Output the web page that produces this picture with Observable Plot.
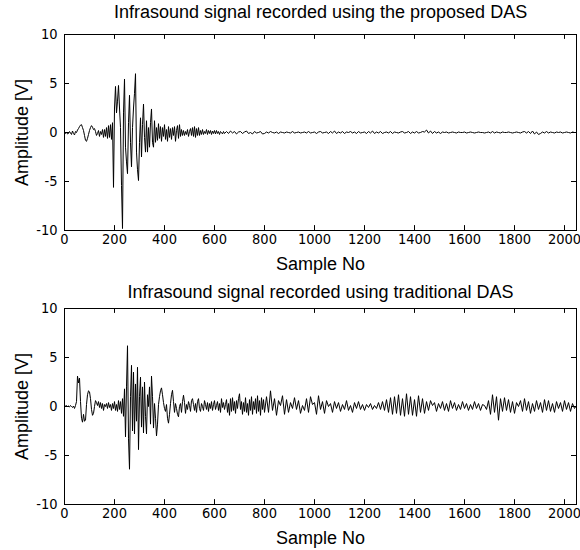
<!DOCTYPE html>
<html><head><meta charset="utf-8">
<script src="https://cdn.jsdelivr.net/npm/d3@7"></script>
<script src="https://cdn.jsdelivr.net/npm/@observablehq/plot@0.6"></script>
<style>
body{margin:0;background:#fff;}
#chart{width:580px;height:550px;}
#chart svg{display:block;}
</style></head><body><div id="chart"></div>
<script>
const xTicks = [0,200,400,600,800,1000,1200,1400,1600,1800,2000];
const yTicks = [-10,-5,0,5,10];
const titleTop = "Infrasound signal recorded using the proposed DAS";
const titleBottom = "Infrasound signal recorded using traditional DAS";
const xLabel = "Sample No";
const yLabel = "Amplitude [V]";

// Proposed DAS: samples 0..640 every 4, then 648..2048 every 8
const topAmpEarly = [
  0.0,-0.1,0.05,-0.15,-0.1,0.1,-0.05,-0.2,0.15,-0.1,-0.25,0.1,0.0,0.25,0.4,0.6,
  0.75,0.8,0.5,0.2,-0.3,-0.8,-0.9,-0.6,
  -0.2,0.2,0.5,0.7,0.55,0.3,0.4,0.1,
  -0.3,-0.1,0.2,-0.4,0.1,-0.2,0.3,-0.5,0.3,-0.4,
  0.5,-0.6,0.7,-0.5,0.8,-0.7,1.0,-5.6,2.5,4.7,
  2.0,3.2,4.8,2.5,0.5,-5.4,-9.8,2.0,5.45,-1.5,
  -3.0,-4.2,1.0,3.8,-1.0,-3.5,0.5,2.5,4.0,6.0,
  -2.0,-3.8,-4.9,-1.0,1.5,-2.5,0.8,2.9,-0.5,-2.0,
  1.2,-2.0,0.5,-1.5,1.0,2.4,-1.0,-1.5,1.2,-1.0,
  0.5,-0.8,0.9,-0.6,0.6,-0.9,0.5,-0.4,0.8,-0.7,
  0.3,-0.9,0.6,-0.5,0.4,-0.7,0.5,-0.3,0.6,-0.9,
  0.2,0.7,-0.6,0.8,-0.4,0.3,-0.3,0.2,-0.3,0.1,
  -0.2,0.3,-0.4,0.1,0.4,-0.3,0.5,-0.4,0.6,-0.5,
  0.4,-0.3,0.5,-0.3,0.2,-0.2,0.3,-0.2,0.1,-0.1,
  0.3,-0.2,0.2,-0.1,0.2,-0.2,0.15,-0.1,0.2,-0.15,
  0.2,-0.1,0.1,-0.2,0.1,0.0,-0.15,0.1,-0.1
];
const topAmpLate = [
  0.1,-0.1,0.15,-0.05,0.1,-0.15,0.05,0.1,-0.1,0.05,
  0.15,-0.1,0.0,-0.15,0.1,-0.05,0.0,0.1,-0.15,-0.1,
  0.05,-0.05,0.1,0.0,-0.05,0.05,-0.1,0.05,0.0,-0.05,
  0.05,0.0,-0.05,0.1,-0.05,0.0,0.05,-0.05,0.0,0.05,
  -0.05,0.1,-0.05,0.0,0.05,-0.1,0.05,0.1,-0.05,0.0,
  0.05,-0.1,0.1,-0.05,0.15,-0.1,0.05,-0.05,0.1,-0.1,
  0.05,0.0,0.1,-0.05,0.05,-0.1,0.1,-0.05,0.0,0.05,
  -0.1,0.1,-0.05,0.15,-0.1,0.05,-0.05,0.1,-0.1,0.0,
  0.05,-0.05,0.1,-0.1,0.05,0.0,-0.05,0.05,0.1,-0.05,
  0.0,0.1,-0.1,0.05,-0.05,0.1,-0.05,0.0,0.1,0.05,
  0.25,-0.05,0.15,-0.1,0.1,-0.05,0.05,-0.1,0.05,0.0,
  0.05,-0.05,0.0,0.05,0.0,-0.05,0.05,0.0,0.0,0.05,
  -0.05,0.0,0.05,0.0,-0.05,0.0,0.05,0.0,0.0,-0.05,
  0.0,0.05,-0.05,0.1,-0.05,0.05,0.0,-0.05,0.05,0.0,
  0.0,0.05,0.0,-0.05,0.0,0.05,0.0,-0.05,0.05,0.1,
  -0.05,0.1,-0.1,0.15,-0.15,0.05,-0.2,-0.1,0.05,-0.05,
  0.1,-0.05,0.05,0.0,-0.05,0.05,0.0,0.05,-0.05,0.0,
  0.05,0.0,-0.05,0.05,0.0,0.0
];

// Traditional DAS: samples 0..800 every 4, then 808..2048 every 8
const botAmpEarly = [
  0.0,0.05,0.1,0.0,0.05,-0.05,0.1,0.0,-0.1,0.05,-0.2,0.1,
  0.5,3.1,2.4,2.9,0.5,-1.2,-1.6,-0.8,-1.5,-1.4,0.2,1.2,1.6,
  1.5,0.8,-0.3,-0.9,-0.7,0.0,0.6,0.4,0.1,0.5,-0.1,0.4,-0.2,
  0.3,-0.4,0.2,0.0,0.3,-0.2,0.4,-0.1,0.2,-0.4,0.3,-0.2,0.5,
  -0.4,0.2,-0.5,0.6,-0.3,0.5,-0.7,0.8,-1.0,1.8,-3.1,2.0,
  6.2,-3.3,-6.4,1.0,4.2,-2.5,3.5,-2.8,2.3,-1.5,4.0,-4.4,1.0,
  3.0,-2.1,2.0,-2.7,2.5,-1.0,-2.8,1.2,0.0,2.0,-1.8,3.1,1.0,
  -2.2,0.3,-1.2,-3.0,-1.8,0.2,1.0,1.6,1.9,1.2,0.4,-0.2,-0.5,
  0.2,-1.2,-1.7,-0.8,0.3,1.2,1.65,0.5,-0.6,0.3,-0.2,-0.8,-1.05,
  0.0,0.3,-0.6,0.5,1.15,0.4,-0.7,0.2,-0.3,0.5,0.1,-0.5,0.6,
  0.8,0.2,-0.4,0.3,-0.6,0.5,0.8,-0.2,-0.5,0.3,0.0,-0.4,0.6,
  0.2,-0.3,0.4,-0.5,0.3,-0.2,0.5,-0.4,0.2,0.6,-0.3,0.1,0.5,
  -0.4,0.3,-0.6,0.8,-0.1,0.4,-0.3,0.2,0.7,-0.6,0.3,-0.9,0.8,
  -0.5,0.9,-0.4,0.5,-0.7,0.6,-0.2,0.8,1.3,-0.3,0.5,-0.8,0.4,
  -0.5,0.9,-0.6,0.3,-0.9,0.7,-0.4,1.0,-0.8,0.5,-0.3,
  0.8,-0.7,1.1,-0.5,0.6,-0.9,0.9,-0.3,0.7,-0.6
];
const botAmpLate = [
  1.0,-0.6,1.6,-0.4,0.8,-0.9,0.6,0.1,1.1,-0.8,
  0.7,-0.6,0.4,-0.2,0.9,-0.3,0.6,-0.7,0.1,-0.4,
  0.8,-0.6,1.0,0.2,0.4,-0.8,1.1,-0.3,0.5,-0.7,
  0.6,0.0,0.3,-0.6,0.5,-0.2,0.4,-0.5,0.2,-0.3,
  0.6,-0.4,0.1,-0.6,0.4,-0.2,0.5,-0.3,0.2,-0.4,
  0.2,-0.1,0.3,-0.3,0.1,-0.2,0.4,-0.3,0.5,-0.4,
  0.7,-0.6,0.9,-0.8,1.0,-0.7,1.2,-0.9,0.8,-1.0,
  1.3,-0.8,1.0,-0.9,0.7,-1.0,1.1,-0.6,0.8,-0.7,
  0.5,-0.4,0.6,0.1,0.4,-0.5,0.3,-0.2,0.5,-0.4,
  0.3,-0.5,0.6,-0.2,0.4,-0.4,0.2,-0.3,0.5,-0.2,
  0.3,-0.4,0.2,-0.3,0.5,-0.2,0.3,-0.4,0.2,0.1,
  -0.3,0.6,-0.8,1.2,-0.6,1.0,-1.4,0.8,-0.5,0.9,
  -0.4,0.7,-0.6,0.5,-0.7,0.4,0.0,0.6,-0.5,0.8,
  -0.4,0.5,-0.7,0.3,-0.5,0.6,-0.3,0.4,-0.6,0.7,
  -0.4,0.6,-0.5,0.3,-0.6,0.5,-0.2,0.4,-0.5,0.6,
  -0.3,0.4,-0.5,0.3,-0.2,0.1
];

const topSamples = [...d3.range(0, 641, 4), ...d3.range(648, 2049, 8)];
const botSamples = [...d3.range(0, 801, 4), ...d3.range(808, 2049, 8)];
const topAmp = [...topAmpEarly, ...topAmpLate];
const botAmp = [...botAmpEarly, ...botAmpLate];
const topData = topSamples.map((s, i) => ({s, v: topAmp[i]})).filter(d => d.v !== undefined);
const botData = botSamples.map((s, i) => ({s, v: botAmp[i]})).filter(d => d.v !== undefined);

const FONT = "'Liberation Sans', Arial, Helvetica, sans-serif";
const TICKFONT = "'Liberation Sans Narrow', 'Arial Narrow', 'DejaVu Sans Condensed', 'Liberation Sans', sans-serif";

function panel(title, data, height, marginTop, marginBottom, titleDy) {
  return Plot.plot({
    width: 580, height,
    marginLeft: 64, marginRight: 4, marginTop, marginBottom,
    style: {fontFamily: FONT, fontSize: "15px", color: "black", background: "white", overflow: "visible"},
    x: {domain: [0, 2048]},
    y: {domain: [-10, 10]},
    marks: [
      Plot.axisX({ticks: xTicks, tickSize: 0, tickPadding: 3, tickFormat: d => String(d), label: null, fontSize: 14.5, fontFamily: TICKFONT}),
      Plot.axisY({ticks: yTicks, tickSize: 0, tickPadding: 7, tickFormat: d => String(d), label: null, fontSize: 14.5, fontFamily: TICKFONT}),
      Plot.ruleX(xTicks, {x: d => d, y1: -10, y2: -9.5, stroke: "black"}),
      Plot.ruleX(xTicks, {x: d => d, y1: 10, y2: 9.5, stroke: "black"}),
      Plot.ruleY(yTicks, {y: d => d, x1: 0, x2: 20, stroke: "black"}),
      Plot.ruleY(yTicks, {y: d => d, x1: 2048, x2: 2028, stroke: "black"}),
      Plot.line(data, {x: "s", y: "v", stroke: "black", strokeWidth: 1}),
      Plot.frame({stroke: "black", strokeWidth: 1}),
      Plot.text([title], {text: d => d, frameAnchor: "top", lineAnchor: "middle", textAnchor: "middle", dy: titleDy, fontSize: 18, fill: "black"}),
      Plot.text([xLabel], {text: d => d, frameAnchor: "bottom", lineAnchor: "middle", textAnchor: "middle", dy: 34, fontSize: 18, fill: "black"}),
      Plot.text([yLabel], {text: d => d, frameAnchor: "left", lineAnchor: "middle", textAnchor: "middle", dx: -42, rotate: -90, fontSize: 18, fill: "black"})
    ]
  });
}

const chart = document.getElementById("chart");
chart.appendChild(panel(titleTop, topData, 270, 34, 40, -22));
chart.appendChild(panel(titleBottom, botData, 280, 38, 46, -16));
</script></body></html>
